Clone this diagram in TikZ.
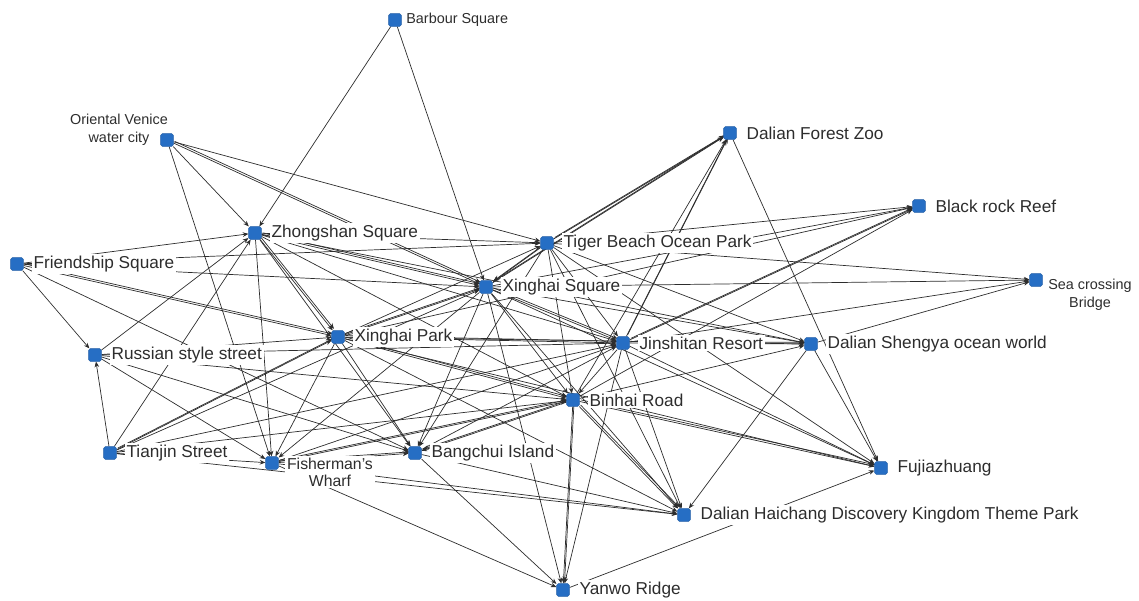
\documentclass[tikz,border=0pt]{standalone}
\usepackage{fontspec}
\setmainfont{Liberation Sans}
\usetikzlibrary{arrows.meta,backgrounds}
\definecolor{spotblue}{RGB}{38,110,196}
\definecolor{inkgray}{RGB}{45,45,45}

\begin{document}
\begin{tikzpicture}[x=0.02cm,y=-0.02cm,
    spot/.style={rectangle, rounded corners=1pt, fill=spotblue, draw=spotblue!85!black,
        line width=0.3pt, minimum size=7.2pt, inner sep=0pt},
    tagtext/.style={font=\fontsize{9.8}{11}\selectfont, text=inkgray, fill=white, inner sep=1pt},
    tag/.style={tagtext, xshift=4.5pt},
    smalltag/.style={font=\fontsize{8.2}{10.2}\selectfont, text=inkgray, fill=white, inner sep=1pt, align=center},
    link/.style={draw=inkgray, line width=0.4pt, -{Stealth[length=3.2pt,width=2.6pt]}},
    twin/.style={link, transform canvas={shift={(0.7pt,0.9pt)}}}]
\useasboundingbox (0,0) rectangle (1139,601);

% Define the places
\node at (395,20) [spot, label={[smalltag, xshift=1.5pt]right:Barbour Square}] (bs) {};
\node at (167,140) [spot, label={[smalltag, fill=none, xshift=-0.96cm, yshift=0.2cm]center:Oriental Venice\\water city}] (ov) {};
\node at (730,133) [spot, label={[tag]right:Dalian Forest Zoo}] (fz) {};
\node at (919,206) [spot, label={[tag]right:Black rock Reef}] (br) {};
\node at (255,233) [spot, label={[tag]right:Zhongshan Square}] (zs) {};
\node at (547,243) [spot, label={[tag]right:Tiger Beach Ocean Park}] (tb) {};
\node at (17,264) [spot, label={[tag]right:Friendship Square}] (fs) {};
\node at (1036,280) [spot, label={[smalltag, xshift=1.08cm, yshift=-0.3cm]center:Sea crossing\\Bridge}] (sb) {};
\node at (486,287) [spot, label={[tag]right:Xinghai Square}] (xs) {};
\node at (338,337) [spot, label={[tag]right:Xinghai Park}] (xp) {};
\node at (623,343) [spot, label={[tag]right:Jinshitan Resort}] (jr) {};
\node at (811,344) [spot, label={[tag]right:Dalian Shengya ocean world}] (sy) {};
\node at (95,355) [spot, label={[tag]right:Russian style street}] (rs) {};
\node at (573,400) [spot, label={[tag]right:Binhai Road}] (bh) {};
\node at (110,453) [spot, label={[tag]right:Tianjin Street}] (tj) {};
\node at (272,463) [spot, label={[tagtext, align=center, font=\fontsize{9}{9.8}\selectfont, xshift=1.16cm, yshift=-0.18cm]center:Fisherman's\\Wharf}] (fw) {};
\node at (415,453) [spot, label={[tag]right:Bangchui Island}] (bc) {};
\node at (881,468) [spot, label={[tag]right:Fujiazhuang}] (fj) {};
\node at (684,515) [spot, label={[tag]right:Dalian Haichang Discovery Kingdom Theme Park}] (hc) {};
\node at (563,590) [spot, label={[tag]right:Yanwo Ridge}] (yr) {};

% Draw the flows behind the places
\begin{scope}[on background layer]
% single flows
\foreach \a/\b in {bs/zs, bs/xs, ov/zs, ov/fw, ov/tb,
    fs/rs, fs/zs, fs/tb, fs/xs, fs/bc,
    rs/zs, rs/xp, rs/fw, rs/bc, rs/bh, rs/jr,
    tj/rs, tj/fw, tj/zs, tj/xs, tj/jr, tj/bh, tj/hc,
    zs/tb, zs/jr, zs/bh, zs/fw, zs/bc, zs/sy,
    tb/jr, tb/bh, tb/sy, tb/sb, tb/br, tb/hc, tb/fj, tb/bc, xp/tb,
    xs/bh, xs/sy, xs/sb, xs/br, xs/bc, xs/fw, xs/yr, xs/hc, xs/fj,
    xp/bc, xp/fw, xp/sy, xp/fj, xp/hc, xp/br,
    jr/sb, jr/bh, jr/hc, jr/fj, bc/jr, fw/jr, jr/yr,
    bh/fz, bh/br, bh/sy,
    fw/hc, fw/yr, bc/yr, bc/hc,
    sy/hc, sy/fj, sy/sb, fz/fj, yr/fj}
    \draw[link] (\a) -- (\b);
% doubled flows
\foreach \a/\b in {ov/xs, fs/xp, tj/xp, zs/xp, zs/xs, tb/fz, tb/xs,
    xs/fz, xs/jr, xp/jr, xp/bh, xp/xs, jr/fz, jr/br, jr/sy,
    bh/fj, bh/hc, bh/yr, bh/bc, fw/bh, fw/bc} {
    \draw[link] (\a) -- (\b);
    \draw[twin] (\a) -- (\b);
}
\end{scope}
\end{tikzpicture}
\end{document}
